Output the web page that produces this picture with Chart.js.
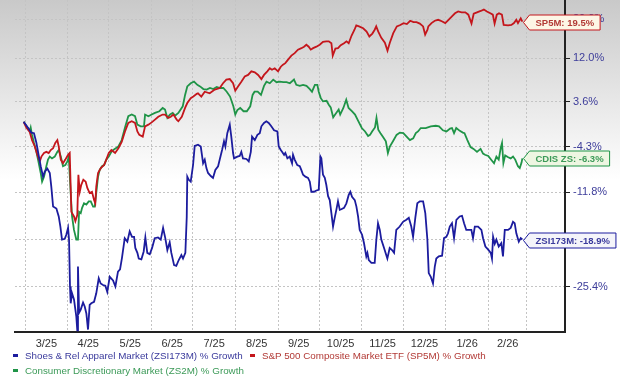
<!DOCTYPE html>
<html>
<head>
<meta charset="utf-8">
<script src="https://cdn.jsdelivr.net/npm/chart.js@4.4.1/dist/chart.umd.min.js"></script>
<style>
  html, body { margin: 0; padding: 0; background: #fff; }
  #wrap { position: relative; width: 620px; height: 385px; }
  .item { position: absolute; white-space: nowrap; font: 9.8px Arial, "Liberation Sans", sans-serif; line-height: 12px; }
  .item i { display: inline-block; width: 5px; height: 3px; margin-right: 7px; vertical-align: 2px; }
</style>
</head>
<body>
<div id="wrap">
  <canvas id="chart" width="620" height="385"></canvas>
</div>
<script>
// x values are days since 1 Mar 2025, y values are % growth
const monthLabels = ['3/25', '4/25', '5/25', '6/25', '7/25', '8/25', '9/25', '10/25', '11/25', '12/25', '1/26', '2/26'];
const monthStartDays = [0, 31, 61, 92, 122, 153, 184, 214, 245, 275, 306, 337, 365];
const yTickGrowth = [20.0, 12.0, 3.6, -4.3, -11.8, -18.9, -25.4];
const yMinGrowth = -31.2;
const yMaxGrowth = 24.2;
const xMinDay = -7.3;
const xMaxDay = 392.7;

const seriesNames = [
  'Shoes & Rel Apparel Market (ZSI173M) % Growth',
  'S&P 500 Composite Market ETF (SP5M) % Growth',
  'Consumer Discretionary Market (ZS2M) % Growth'
];
const flagLabels = ['ZSI173M: -18.9%', 'SP5M: 19.5%', 'CDIS ZS: -6.3%'];

const zsiDays = [-1,4.6,6.5,8.2,10,11.4,13.1,14.3,16.2,18,19.1,20.4,22.8,24.5,25.7,26.9,28.9,30,31.3,32,32.7,33.2,34.2,35.6,37.3,38,38.5,39.3,40.5,42.2,43.4,44.6,45.8,47,48.2,50.2,51.8,53.6,55,56.7,58.4,59.8,61.6,64,65.7,67.6,69.1,70.5,72.5,74.4,76.1,77.8,79.3,80.2,81.7,82.7,84.6,86.3,87.5,88.9,90.7,92.4,94.3,96.7,98.7,100.4,102,103.5,105.2,106.4,108.4,110,111.8,113.7,114.9,116.6,117.6,118,119.1,120.5,122.2,123.4,125.8,127.8,129.5,130.7,131.9,133.1,135.1,136.7,138.4,140.4,141.6,143.3,144.7,145.7,147.1,148.9,150,151.3,152,154.4,156.1,157.3,158.5,161,162.7,164.2,165.1,167.1,169,170.7,171.9,173.8,175.5,177.2,179.1,181.1,183.5,184.5,186,186.9,188.4,189.3,190.8,192.5,194.2,194.9,196.1,198,199.8,200.9,202.2,203.9,205.8,207.1,208.2,210.2,211.9,213.6,214.8,215.5,216.7,218,219.1,220.4,221.6,222.8,224,225.2,226.4,227.6,228.9,230,232,233.7,235.4,236.6,237.8,239.8,241,242.2,243.4,245.1,246.5,248.2,249,250,251.9,254.3,255.5,256.7,258,259.1,261.1,263.5,265.2,266.9,268.4,270,272.5,274.9,277.3,279.1,280.9,282.2,283.9,285.3,287.1,289.5,291.1,292.6,293.6,295.1,296.7,298,299.1,300.9,303.3,304.7,306.4,307.6,308.9,310.5,312,313.7,316.1,317.8,319.3,320.9,322.7,324.6,325.8,327.1,329.5,331.9,333.1,334.8,336.7,338.7,339.6,340.4,341.6,342.8,344.5,346.4,347.6,348.9,351.3,353.2,354.9,356.1,357.3,359.1,360.5,361.7];
const zsiGrowth = [0,-1.9,-2.0,-3.6,-5.9,-7.6,-9.3,-8.5,-8.0,-8.7,-10.9,-14.0,-14.3,-15.5,-17.0,-18.9,-18.8,-18.2,-17.2,-18.9,-25.4,-27.6,-26.3,-27.1,-29.3,-31.0,-22.7,-28.8,-28.4,-27.5,-28.0,-28.9,-30.9,-27.8,-27.6,-27.4,-26.3,-24.3,-25.0,-25.2,-25.3,-26.1,-24.1,-24.6,-25.4,-23.4,-23.1,-21.5,-18.7,-19.2,-17.7,-18.5,-18.5,-20.1,-20.8,-21.6,-21.7,-20.6,-18.6,-20.8,-21.0,-20.1,-18.7,-18.6,-18.9,-17.2,-18.7,-20.4,-19.3,-20.8,-22.5,-22.6,-21.8,-21.1,-21.6,-20.8,-15.6,-9.3,-9.8,-10.1,-7.4,-4.2,-4.0,-4.3,-7.1,-6.5,-7.9,-8.7,-9.2,-9.5,-8.2,-7.6,-6.5,-4.9,-3.4,-4.3,-2.0,-0.5,-2.6,-5.4,-6.3,-6.0,-5.9,-5.2,-6.3,-6.4,-6.8,-5.2,-2.6,-3.2,-2.3,-2.0,-0.8,-0.2,0.1,-0.2,-0.8,-1.5,-1.7,-4.3,-4.9,-5.2,-5.7,-5.4,-6.3,-6.0,-7.1,-5.7,-6.5,-7.4,-7.6,-8.2,-9.0,-9.3,-9.5,-10.1,-11.7,-11.7,-11.5,-11.4,-6.0,-6.3,-9.0,-9.5,-10.6,-12.4,-13.0,-15.0,-17.0,-15.7,-14.5,-13.2,-14.5,-14.4,-14.2,-13.5,-12.2,-11.7,-12.5,-13.0,-14.0,-15.5,-17.5,-18.2,-19.4,-21.3,-20.8,-21.8,-22.2,-22.2,-18.9,-16.5,-17.5,-18.9,-20.1,-21.6,-20.1,-20.4,-20.8,-17.5,-17.0,-16.3,-16.0,-15.7,-17.0,-18.5,-15.6,-13.5,-13.2,-13.2,-15.0,-18.9,-23.6,-24.1,-25.0,-22.7,-21.6,-21.3,-21.2,-18.7,-18.5,-18.0,-17.0,-16.5,-18.7,-16.0,-15.5,-15.4,-16.5,-17.5,-17.5,-17.5,-18.7,-17.0,-17.0,-17.5,-18.7,-19.9,-20.3,-20.8,-21.6,-18.5,-19.5,-18.9,-19.9,-19.4,-21.3,-17.5,-17.5,-17.2,-16.3,-16.5,-18.0,-19.2,-18.7,-18.9];

const sp5mDays = [-1,0.9,3.4,5.1,7.1,8.9,10.7,11.9,13.8,15.5,17.2,18.7,20.4,22,23.5,24.5,26,27.6,29.3,31.3,32.5,33.7,35.6,36.6,38,38.8,39.8,40.9,42.4,44.1,45.3,47,48.7,50.2,51.1,51.8,53.1,55.1,57.5,59.1,60.9,62.8,65.5,67.9,70.3,72.7,75.1,77.6,80,81.7,83.1,85.6,87.3,89.7,92.1,94.5,96.9,100.1,101.8,104.2,106,107.9,110.3,111.5,114,116.4,118,120.5,122.4,124.9,125.8,128.2,130.7,134.3,138,141.6,144,146.4,148.9,151.3,152.9,154.9,157.3,159.8,162.2,164.6,167.1,169.5,171.9,173.8,176.2,178,179.6,181.6,184,186,187.6,189.3,191.3,193.7,196.1,198.5,201,202.9,204.6,206.3,207.8,209.5,211.9,214.3,216.7,219.1,220.9,222.8,223.8,225.7,227.6,229.6,232,233.8,235.4,237.5,239.6,240.9,242.9,245.9,248.4,250.4,252.6,254.3,255.4,256.9,259.1,261.7,263.6,265.3,267.8,270.4,272.9,275.3,277.7,280.1,282.5,284.7,287.1,289.5,291,292.7,293.3,295.6,298,300.5,303.1,305.6,308,310.3,312.7,315,317.5,320.2,322.4,324.7,326.3,328.7,331.4,333.7,335.9,338.4,340.2,341.5,343.1,344.7,346.8,348.1,351.3,353.7,355.6,357.3,358.5,360.5,361.7];
const sp5mGrowth = [0,-1.0,-1.8,-3.2,-4.3,-5.7,-6.8,-6.0,-5.4,-5.2,-5.4,-4.9,-4.6,-3.7,-3.2,-4.3,-6.5,-7.1,-6.5,-5.7,-5.4,-14.8,-15.5,-16.2,-15.3,-9.0,-11.7,-10.6,-9.8,-10.1,-11.1,-11.9,-11.7,-13.0,-13.5,-10.9,-8.7,-7.9,-7.4,-6.5,-5.4,-4.9,-5.4,-4.6,-3.5,-1.7,-0.2,0.1,-0.2,-1.7,-2.3,-2.6,-0.8,-0.5,-0.1,0.4,0.9,1.3,1.3,0.7,0.9,1.3,0.4,0.1,0.9,2.5,3.4,4.3,4.6,5.1,5.2,4.6,5.5,5.2,5.9,6.2,7.1,7.8,7.9,7.1,5.7,6.5,7.4,8.4,8.7,9.4,9.2,8.7,7.9,8.7,9.4,10.0,9.7,10.0,9.4,10.3,10.7,11.0,11.7,12.5,13.0,13.7,14.0,14.3,14.7,14.3,13.7,14.0,14.3,14.7,15.3,15.4,15.4,15.0,12.5,13.9,14.0,14.6,15.0,15.4,15.0,16.6,17.8,18.7,18.5,18.1,17.4,16.4,17.0,17.8,18.5,17.4,16.1,15.1,13.5,15.1,17.1,18.5,18.8,19.2,19.0,19.7,19.4,19.4,19.1,18.5,16.8,17.8,18.5,19.2,19.7,19.9,19.6,19.2,19.9,20.6,21.3,21.7,21.5,21.5,21.0,19.1,21.2,21.5,21.8,22.1,21.7,21.3,21.0,19.1,21.0,21.3,21.0,18.8,18.7,18.8,19.2,19.9,19.2,20.2,19.5];

const cdisDays = [-1,1.7,3.4,4.1,5.1,6.5,8.2,10,11.4,12.4,13.8,15.5,16.7,18,19.6,21.6,23.5,24.5,26,27.6,29.3,30.8,31.8,33.2,34.2,35.6,37.3,38.5,39.3,40.5,41.5,42.9,44.6,46.3,47.8,49.5,50.7,51.8,53.1,54.3,56,57.5,59.1,60.9,62.8,64.2,67.9,70.3,72.7,75.1,77.6,80,81.7,84.1,86.5,87.3,89.7,92.1,94.5,97.7,100.1,101.8,103.5,105.5,107.4,109.1,111.5,114.7,116.4,118,120.5,122.9,125.3,127.3,129.7,132.1,134.5,136.9,139.4,141.8,144.2,146.7,149.1,151.5,152.9,154.4,156.5,158.9,161.3,163.8,165.5,166.9,169.2,171.6,173.8,175.6,178,180.5,182.9,185.3,187.8,190.2,192.6,195.6,197.3,199.8,202.2,204.7,207.1,208.7,210.8,212.6,213.6,215.1,216.7,219.3,220.9,222.3,224.1,225.8,228.1,229.2,231.5,233.6,235.3,237.7,240,242.2,244.9,247.3,249.5,250.9,252.4,254.5,255.6,256.9,258.5,260.5,262.4,263.9,265.3,267.8,270.2,272.6,275.1,277.5,279.9,282.3,284.2,285.8,287.8,291.4,295.1,298.7,301.1,303.9,306.5,309.1,310.5,312,313.6,316.2,318.4,319.6,321.7,324,326.2,328.7,331.3,333.1,334.5,336.9,339.3,341.1,342.8,344.5,346,346.9,347.9,349.2,351.4,353.2,354.9,356.5,358.5,359.8,361.1,361.7];
const cdisGrowth = [0,-1.0,-1.6,-1.0,-2.3,-3.7,-5.1,-7.1,-8.7,-10.1,-9.3,-7.6,-6.5,-6.0,-6.3,-6.0,-5.2,-4.9,-6.0,-7.6,-7.4,-6.8,-6.0,-11.9,-15.5,-17.5,-18.9,-18.9,-14.8,-15.0,-14.2,-13.5,-13.7,-13.2,-13.2,-14.0,-14.0,-11.9,-9.3,-8.2,-7.6,-7.4,-6.5,-6.0,-5.2,-4.9,-4.3,-3.2,-1.0,1.0,1.3,1.0,-0.5,-0.8,-0.8,1.3,1.0,1.3,1.6,1.9,2.5,2.2,0.7,1.3,1.6,1.1,1.6,2.8,4.9,6.5,7.1,7.4,6.8,6.5,6.0,5.9,6.2,6.0,6.4,6.2,6.2,5.5,4.6,2.8,1.3,2.1,2.5,1.9,1.9,2.8,4.9,5.5,5.5,4.9,6.6,7.4,7.1,7.8,7.3,7.4,7.3,7.3,7.1,7.8,6.8,6.6,6.8,6.6,6.0,5.5,6.8,6.8,5.5,4.3,3.7,3.8,3.1,2.6,0.8,1.4,2.2,1.3,2.5,4.0,2.5,1.9,1.3,0.2,-1.1,-1.7,-2.5,-2.3,-1.7,-1.0,0.7,-1.4,-2.0,-2.7,-3.4,-5.4,-4.3,-3.3,-2.3,-1.9,-2.0,-2.6,-3.2,-2.9,-2.0,-1.7,-1.1,-1.1,-0.8,-0.7,-0.8,-1.5,-1.7,-1.2,-1.1,-2.0,-1.1,-1.6,-1.9,-2.0,-3.2,-4.4,-4.7,-5.2,-4.7,-5.5,-5.7,-5.9,-6.6,-7.1,-6.0,-6.5,-4.5,-3.7,-7.1,-5.8,-6.1,-6.3,-6.0,-6.5,-7.6,-7.9,-7.0,-6.3];

const lineColors = ['#1c1c9e', '#c4161c', '#1f9447'];
const textColors = ['#3a3a9c', '#b23a36', '#3c9a58'];
const flagFills = ['#f4f4fa', '#fdf6e6', '#eef6e2'];
const fontFamily = 'Arial, "Liberation Sans", sans-serif';

const monthMidDays = monthLabels.map((m, i) => (monthStartDays[i] + monthStartDays[i + 1]) / 2);

function toPoints(days, growth) {
  return days.map((d, i) => ({ x: d, y: 100 + growth[i] }));
}

const bgGradient = {
  id: 'bgGradient',
  beforeDraw(chart) {
    const { ctx, width, height } = chart;
    const g = ctx.createLinearGradient(0, 0, 0, 180);
    g.addColorStop(0, '#c9c9c9');
    g.addColorStop(1, '#ffffff');
    ctx.save();
    ctx.fillStyle = '#ffffff';
    ctx.fillRect(0, 0, width, height);
    ctx.fillStyle = g;
    ctx.fillRect(0, 0, width, 180);
    ctx.restore();
  }
};

// end-of-line value flags
const endFlags = {
  id: 'endFlags',
  afterDraw(chart) {
    const ctx = chart.ctx;
    chart.data.datasets.forEach((ds, i) => {
      const meta = chart.getDatasetMeta(i);
      const pt = meta.data[meta.data.length - 1];
      const text = flagLabels[i];
      ctx.save();
      ctx.font = 'bold 9.5px ' + fontFamily;
      const w = ctx.measureText(text).width + 12;
      const h = 15;
      const x0 = Math.round(pt.x) + 1.5;
      const y0 = Math.round(pt.y) + 0.5;
      ctx.beginPath();
      ctx.moveTo(x0, y0);
      ctx.lineTo(x0 + 6, y0 - h / 2);
      ctx.lineTo(x0 + 6 + w, y0 - h / 2);
      ctx.lineTo(x0 + 6 + w, y0 + h / 2);
      ctx.lineTo(x0 + 6, y0 + h / 2);
      ctx.closePath();
      ctx.fillStyle = flagFills[i];
      ctx.fill();
      ctx.lineWidth = 1;
      ctx.strokeStyle = lineColors[i];
      ctx.stroke();
      ctx.fillStyle = textColors[i];
      ctx.textBaseline = 'middle';
      ctx.fillText(text, x0 + 12, y0 + 0.5);
      ctx.restore();
    });
  }
};

const seriesDays = [zsiDays, sp5mDays, cdisDays];
const seriesGrowth = [zsiGrowth, sp5mGrowth, cdisGrowth];

new Chart(document.getElementById('chart'), {
  type: 'line',
  data: {
    datasets: seriesNames.map((name, i) => ({
      label: name,
      data: toPoints(seriesDays[i], seriesGrowth[i]),
      borderColor: lineColors[i],
      borderWidth: 1.8,
      pointRadius: 0,
      tension: 0,
      fill: false,
      xAxisID: 'x',
      yAxisID: 'y'
    }))
  },
  options: {
    responsive: false,
    animation: false,
    layout: { padding: { left: 15, right: 0, top: 0, bottom: 35 } },
    plugins: { legend: { display: false }, tooltip: { enabled: false } },
    scales: {
      x: {
        type: 'linear',
        position: 'bottom',
        min: xMinDay,
        max: xMaxDay,
        bounds: 'data',
        afterBuildTicks: s => { s.ticks = monthStartDays.map(v => ({ value: v })); },
        afterFit: s => { s.height = 1; s.paddingLeft = 0; s.paddingRight = 0; },
        ticks: { display: false },
        grid: { color: '#c4c4c4', drawTicks: false },
        border: { color: '#222', width: 2, dash: [2, 2] }
      },
      x2: {
        type: 'linear',
        position: 'bottom',
        min: xMinDay,
        max: xMaxDay,
        bounds: 'data',
        afterBuildTicks: s => { s.ticks = monthMidDays.map(v => ({ value: v })); },
        afterFit: s => { s.height = 17; s.paddingLeft = 0; s.paddingRight = 0; },
        ticks: {
          callback: (v, i) => monthLabels[i],
          color: '#333',
          font: { family: fontFamily, size: 11 },
          padding: 4,
          maxRotation: 0,
          autoSkip: false
        },
        grid: { display: false, drawTicks: false },
        border: { display: false }
      },
      y: {
        type: 'logarithmic',
        position: 'right',
        min: 100 + yMinGrowth,
        max: 100 + yMaxGrowth,
        bounds: 'data',
        afterBuildTicks: s => { s.ticks = yTickGrowth.map(v => ({ value: 100 + v })); },
        afterFit: s => { s.width = 55; s.paddingTop = 0; s.paddingBottom = 0; },
        ticks: {
          callback: (v, i) => yTickGrowth[i].toFixed(1) + '%',
          color: '#3d3d9a',
          font: { family: fontFamily, size: 11 },
          padding: 3,
          autoSkip: false
        },
        grid: { color: '#c4c4c4', tickColor: '#222', tickLength: 5, tickBorderDash: [] },
        border: { color: '#222', width: 2, dash: [2, 2] }
      }
    }
  },
  plugins: [bgGradient, endFlags]
});

// legend below the plot
const legendSpots = [[13, 350], [250, 350], [13, 365]];
const wrap = document.getElementById('wrap');
seriesNames.forEach((name, i) => {
  const el = document.createElement('div');
  el.className = 'item';
  el.style.left = legendSpots[i][0] + 'px';
  el.style.top = legendSpots[i][1] + 'px';
  el.style.color = textColors[i];
  const mark = document.createElement('i');
  mark.style.background = lineColors[i];
  el.appendChild(mark);
  el.appendChild(document.createTextNode(name));
  wrap.appendChild(el);
});
</script>
</body>
</html>
